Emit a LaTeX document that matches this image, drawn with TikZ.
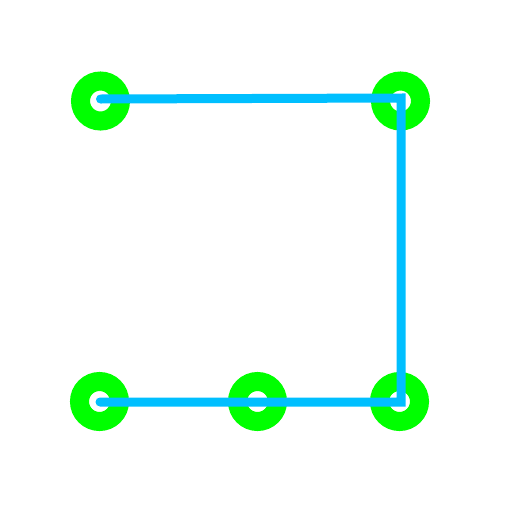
\documentclass[tikz,border=0pt]{standalone}
\usetikzlibrary{calc}
\definecolor{ringgreen}{RGB}{0,255,0}
\definecolor{lineblue}{RGB}{0,191,255}
\tikzset{
  ring/.style={circle, draw=ringgreen, line width=19pt, minimum size=40pt, inner sep=0pt, fill=none},
  pathline/.style={draw=lineblue, line width=9pt, line cap=round, line join=miter}
}
\begin{document}
\begin{tikzpicture}[x=1pt,y=-1pt]
\useasboundingbox[fill=white] (0,0) rectangle (512,512);
\node[ring] (a) at (100.5,101) {};
\node[ring] (b) at (400.5,101) {};
\node[ring] (c) at (399.5,401.5) {};
\node[ring] (d) at (257.5,401.5) {};
\node[ring] (e) at (99.5,401.5) {};
\coordinate (p1) at ($(a.center)+(0,-2)$);
\coordinate (p2) at ($(b.center)+(0.5,-3)$);
\coordinate (p3) at ($(c.center)+(1.5,0.5)$);
\coordinate (p4) at ($(e.center)+(0.5,0.5)$);
\draw[pathline] (p1) -- (p2) -- (p3) -- (p4);
\end{tikzpicture}
\end{document}
